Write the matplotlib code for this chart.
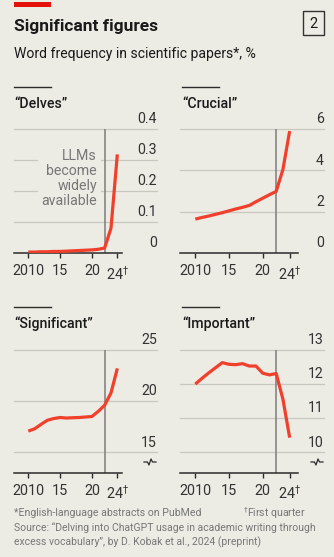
import matplotlib
matplotlib.use('Agg')
import matplotlib.pyplot as plt
from matplotlib.lines import Line2D
from matplotlib.patches import Rectangle

# ---------------- data ----------------
years = list(range(2010, 2025))
delves = [0.003, 0.003, 0.004, 0.004, 0.005, 0.005, 0.006, 0.007, 0.008,
          0.009, 0.010, 0.012, 0.016, 0.080, 0.318]
crucial = [1.64, 1.72, 1.79, 1.87, 1.95, 2.04, 2.13, 2.21, 2.30, 2.48,
           2.65, 2.82, 2.98, 4.04, 5.90]
significant = [17.07, 17.30, 17.73, 18.13, 18.30, 18.40, 18.35, 18.38, 18.40,
               18.45, 18.50, 19.00, 19.60, 20.80, 23.20]
important = [12.00, 12.17, 12.33, 12.48, 12.63, 12.58, 12.57, 12.60, 12.53,
             12.53, 12.32, 12.27, 12.31, 11.56, 10.43]

panel_titles = ['\u201cDelves\u201d', '\u201cCrucial\u201d',
                '\u201cSignificant\u201d', '\u201cImportant\u201d']
xticks = [2010, 2015, 2020, 2024]
xticklabels = ['2010', '15', '20', r'24$^{\dagger}$']
yticks_delves = [0, 0.1, 0.2, 0.3, 0.4]
yticklabels_delves = ['0', '0.1', '0.2', '0.3', '0.4']
yticks_crucial = [0, 2, 4, 6]
yticks_significant = [15, 20, 25]
yticks_important = [10, 11, 12, 13]
llm_year = 2022

# ---------------- style ----------------
W, H = 334, 557
BG = '#ecebe4'
RED = '#f0402c'
GRID = '#c9c8c0'
DARK = '#2b2b2b'
TXT = '#333333'
GREY = '#777777'
plt.rcParams['font.family'] = ['Roboto', 'DejaVu Sans']
plt.rcParams['mathtext.fontset'] = 'dejavusans'

fig = plt.figure(figsize=(W / 100, H / 100), dpi=100, facecolor=BG)


def fx(x):
    return x / W


def fy(y):
    return 1 - y / H


def make_ax(x0, x1, ytop, ybot):
    ax = fig.add_axes([fx(x0), fy(ybot), fx(x1) - fx(x0), (ybot - ytop) / H])
    ax.set_facecolor(BG)
    return ax


def style_panel(ax, xlim, ylim, gridvals, gridlabels, spine_end):
    ax.set_xlim(*xlim)
    ax.set_ylim(*ylim)
    for s in ['top', 'right', 'left']:
        ax.spines[s].set_visible(False)
    ax.spines['bottom'].set_color(DARK)
    ax.spines['bottom'].set_linewidth(1.1)
    ax.spines['bottom'].set_bounds(xlim[0], spine_end)
    ax.set_yticks([])
    ax.set_xticks(xticks)
    ax.set_xticklabels(xticklabels)
    ax.tick_params(axis='x', direction='out', length=3.5, width=1.0,
                   color=DARK, pad=4.5, labelsize=10.4, labelcolor=TXT)
    for v, lab in zip(gridvals, gridlabels):
        if v > ylim[0]:
            ax.axhline(v, color=GRID, lw=0.9, zorder=0.5, clip_on=False)
        ax.annotate(lab, xy=(1.0, v), xycoords=('axes fraction', 'data'),
                    xytext=(0, 2), textcoords='offset points',
                    ha='right', va='bottom', fontsize=10.2, color=TXT)
    ax.plot([llm_year, llm_year], [ylim[0], gridvals[-1]], color='#7d7d7d',
            lw=1.1, zorder=2, solid_capstyle='butt')
    return ax


# top row: y 129 .. 253 ; bottom row: 350 .. 472.7
# left column: x 14 .. 157 ; right column: 180 .. 324
lx0, lx1 = 14, 157
rx0, rx1 = 180, 324
left_xlim = (2010 - (28.3 - lx0) / 6.36, 2010 + (lx1 - 28.3) / 6.36)
right_xlim = (2010 - (195.3 - rx0) / 6.74, 2010 + (rx1 - 195.3) / 6.74)

ax1 = make_ax(lx0, lx1, 129, 253)
style_panel(ax1, left_xlim, (0, 0.4), yticks_delves, yticklabels_delves, 2024.8)
ax1.plot(years, delves, color=RED, lw=2.3, zorder=3, solid_capstyle='butt',
         solid_joinstyle='round')
ax1.text(2020.8, 0.337, 'LLMs\nbecome\nwidely\navailable', ha='right', va='top',
         fontsize=10.2, color=GREY, linespacing=1.1, zorder=1,
         transform=ax1.transData,
         bbox=dict(boxstyle='square,pad=0.25', fc=BG, ec='none'))

ax2 = make_ax(rx0, rx1, 129, 253)
style_panel(ax2, right_xlim, (0, 6), yticks_crucial,
            [str(v) for v in yticks_crucial], 2025.3)
ax2.plot(years, crucial, color=RED, lw=2.3, zorder=3, solid_capstyle='butt',
         solid_joinstyle='round')

sig_bottom = 15 - (472.7 - 452.3) / 10.23
imp_bottom = 10 - (472.7 - 452.3) / 34.1

ax3 = make_ax(lx0, lx1, 350, 472.7)
style_panel(ax3, left_xlim, (sig_bottom, 25), yticks_significant,
            [str(v) for v in yticks_significant], 2024.8)
ax3.plot(years, significant, color=RED, lw=2.3, zorder=3, solid_capstyle='butt',
         solid_joinstyle='round')

ax4 = make_ax(rx0, rx1, 350, 472.7)
style_panel(ax4, right_xlim, (imp_bottom, 13), yticks_important,
            [str(v) for v in yticks_important], 2025.3)
ax4.plot(years, important, color=RED, lw=2.3, zorder=3, solid_capstyle='butt',
         solid_joinstyle='round')

# axis-break squiggles (pixel positions)
for cx in (150, 317):
    cy = 462
    xs = [cx - 6, cx - 2.5, cx - 1, cx + 1, cx + 2.5, cx + 6]
    ys = [cy, cy, cy + 3, cy - 3, cy, cy]
    fig.add_artist(Line2D([fx(x) for x in xs], [fy(y) for y in ys],
                          transform=fig.transFigure, color=DARK, lw=0.9))

# ---------------- header ----------------
fig.add_artist(Rectangle((fx(14), fy(7)), fx(51) - fx(14), 5 / H,
                         transform=fig.transFigure, color='#e3120b', lw=0))
fig.text(fx(14), fy(27), 'Significant figures', fontsize=12.5, fontweight='bold',
         color='#1a1a1a', ha='left', va='center')
fig.add_artist(Rectangle((fx(303), fy(35)), 21 / W, 24 / H,
                         transform=fig.transFigure, fc='none', ec='#333333',
                         lw=1.0))
fig.text(fx(313.5), fy(23.5), '2', fontsize=10.5, color='#1a1a1a',
         ha='center', va='center')
fig.text(fx(14), fy(54), 'Word frequency in scientific papers*, %',
         fontsize=10.1, color='#1a1a1a', ha='left', va='center')

# panel headers
for (x0, ytop, title) in [(14, 87, panel_titles[0]), (182, 87, panel_titles[1]),
                          (14, 307, panel_titles[2]), (182, 307, panel_titles[3])]:
    fig.add_artist(Line2D([fx(x0), fx(x0 + 37)], [fy(ytop), fy(ytop)],
                          transform=fig.transFigure, color=DARK, lw=1.0))
    fig.text(fx(x0), fy(ytop + 17), title, fontsize=10.2, color='#1a1a1a',
             fontweight='medium', ha='left', va='center')

# footnotes
fig.text(fx(14), fy(513), '*English-language abstracts on PubMed',
         fontsize=7.6, color=GREY, ha='left', va='center')
fig.text(fx(243), fy(513), r'$^{\dagger}$First quarter',
         fontsize=7.6, color=GREY, ha='left', va='center')
fig.text(fx(14), fy(528),
         'Source: \u201cDelving into ChatGPT usage in academic writing through',
         fontsize=7.5, color=GREY, ha='left', va='center')
fig.text(fx(14), fy(542),
         'excess vocabulary\u201d, by D. Kobak et al., 2024 (preprint)',
         fontsize=7.5, color=GREY, ha='left', va='center')

fig.savefig('out.png', dpi=100, facecolor=BG)
